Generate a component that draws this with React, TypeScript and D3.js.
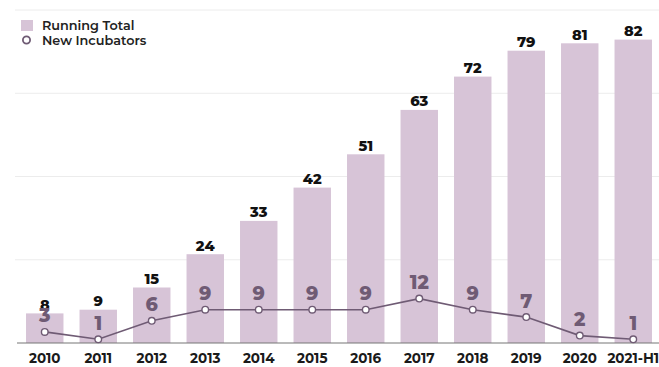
import React from "react";
import * as d3 from "d3";

const categories = ["2010","2011","2012","2013","2014","2015","2016","2017","2018","2019","2020","2021-H1"];
const runningTotal = [8, 9, 15, 24, 33, 42, 51, 63, 72, 79, 81, 82];
const newIncubators = [3, 1, 6, 9, 9, 9, 9, 12, 9, 7, 2, 1];
const gridTicks = [0, 22.5, 45, 67.5, 90];

const W = 659, H = 367;
const BAR = "#d7c4d7";
const LINE = "#6f5b74";
const FONT = "Montserrat, 'Open Sans', 'DejaVu Sans', sans-serif";

export default function App() {
  const x = d3.scaleBand<string>().domain(categories).range([18, 660]).paddingInner(0.3).paddingOuter(0.15);
  const y = d3.scaleLinear().domain([0, 90]).range([343, 10]);
  const cx = (i: number) => (x(categories[i]) as number) + x.bandwidth() / 2;
  const line = d3.line<number>()
    .x((_, i) => cx(i))
    .y(d => y(d));
  return (
    <svg width={W} height={H} style={{ position: "absolute", left: 0, top: 0, background: "#fff" }}>
      {gridTicks.slice(1).map(t => (
        <line key={t} x1={15} x2={W} y1={y(t)} y2={y(t)} stroke="#ececec" strokeWidth={1} />
      ))}
      {runningTotal.map((v, i) => (
        <rect key={categories[i]} x={x(categories[i])} y={y(v)} width={x.bandwidth()} height={y(0) - y(v)} fill={BAR} />
      ))}
      <line x1={17} x2={W} y1={y(0)} y2={y(0)} stroke="#777" strokeWidth={1.2} />
      {runningTotal.map((v, i) => (
        <text key={"rt" + i} x={cx(i)} y={y(v) - 3.5}
          textAnchor="middle" fontFamily={FONT} fontWeight={800} fontSize={14.5} fill="#111">{v}</text>
      ))}
      <path d={line(newIncubators) || ""} fill="none" stroke={LINE} strokeWidth={1.6} />
      {newIncubators.map((v, i) => (
        <text key={"ni" + i} x={cx(i)} y={y(v) - 9.5}
          textAnchor="middle" fontFamily={FONT} fontWeight={800} fontSize={19} fill={LINE}>{v}</text>
      ))}
      {newIncubators.map((v, i) => (
        <circle key={"c" + i} cx={cx(i)} cy={y(v)} r={3.3}
          fill="#fff" stroke={LINE} strokeWidth={1.4} />
      ))}
      {categories.map((c, i) => (
        <text key={"x" + c} x={cx(i)} y={362.5}
          textAnchor="middle" fontFamily={FONT} fontWeight={700} fontSize={13.5} fill="#1a1a1a">{c}</text>
      ))}
      <rect x={21} y={20} width={12} height={11} fill={BAR} />
      <text x={42} y={29.5} fontFamily={FONT} fontWeight={600} fontSize={12.8} fill="#222">Running Total</text>
      <circle cx={26.5} cy={40} r={3.6} fill="#fff" stroke={LINE} strokeWidth={1.8} />
      <text x={42} y={44.5} fontFamily={FONT} fontWeight={600} fontSize={12.8} fill="#222">New Incubators</text>
    </svg>
  );
}
